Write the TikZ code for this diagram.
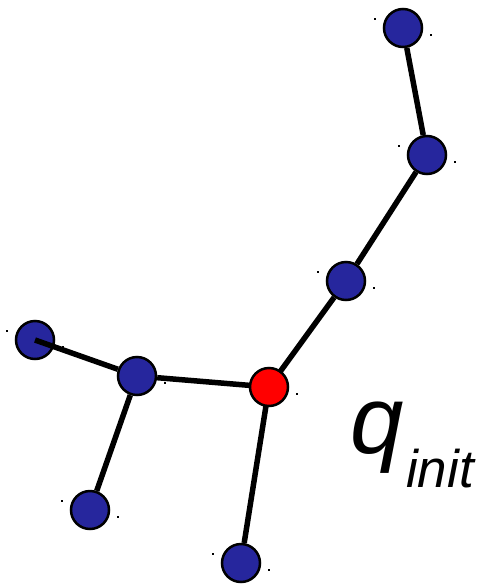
\documentclass[tikz,border=0pt]{standalone}
\usepackage{fontspec}
\setmainfont{Liberation Sans}
\begin{document}
\begin{tikzpicture}[x=1pt, y=-1pt, st/.style={circle, draw, line width=2.5pt, fill=blue!55!black!85, minimum size=38pt, inner sep=0pt}, init/.style={st, fill=red}, edge/.style={line width=5.5pt}, dot/.style={fill=black, minimum size=2pt, inner sep=0pt}]
\useasboundingbox (0,0) rectangle (479,587);
\node[st] (n1) at (403,28) {};
\node[st] (n2) at (427,155) {};
\node[st] (n3) at (346,281) {};
\node[st] (n5) at (137,376) {};
\node[st] (n6) at (35,340) {};
\node[st] (n7) at (90,510) {};
\node[st] (n8) at (241,563) {};
\coordinate (c4) at (269,387);
\draw[edge] (n1)--(n2); \draw[edge] (n2)--(n3); \draw[edge] (n3)--(c4); \draw[edge] (n5)--(c4); \draw[edge] (n5)--(n7); \draw[edge] (c4)--(n8);
\draw[edge] (n5)--(n6.center);
\node[init] (n4) at (c4) {};
% small marks beside the nodes
\foreach \n in {n1,n2,n3,n5,n6,n7,n8} {
  \node[dot] at ([shift={(-28,-9)}]\n.center) {};
  \node[dot] at ([shift={(28,7)}]\n.center) {};
}
\node[dot] at ([shift={(28,7)}]n4.center) {};
\node[anchor=base west, inner sep=0pt] (q) at (350,453) {\fontsize{96}{96}\selectfont\itshape q};
\node[anchor=base west, inner sep=0pt] (i) at (406,487) {\fontsize{53}{53}\selectfont\itshape init};
\end{tikzpicture}
\end{document}
